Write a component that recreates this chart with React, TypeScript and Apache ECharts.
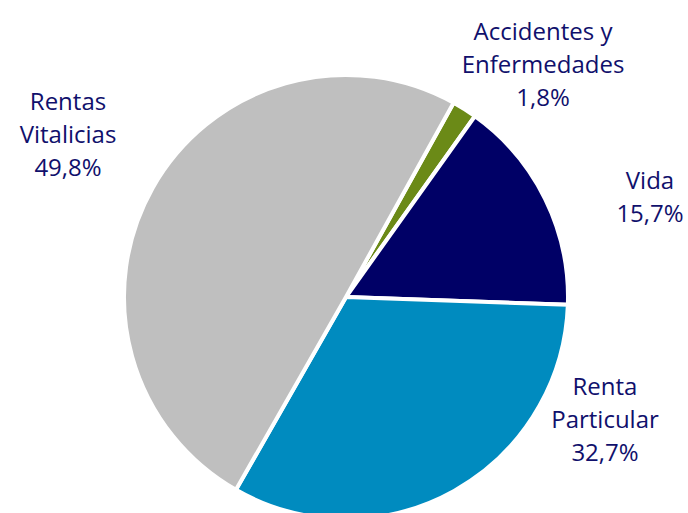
import React, { useEffect, useRef } from "react";
import * as echarts from "echarts";

const categories = ["Accidentes y\nEnfermedades", "Vida", "Renta\nParticular", "Rentas\nVitalicias"];
const values = [1.8, 15.7, 32.7, 49.8];
const colors = ["#6b8a17", "#000066", "#008bbf", "#bfbfbf"];

const labelPos: Record<number, [number, number]> = {
  0: [543, 63],
  1: [650, 196],
  2: [605, 418],
  3: [68, 133],
};

export default function App() {
  const ref = useRef<HTMLDivElement>(null);
  useEffect(() => {
    document.body.style.margin = "0";
    const chart = echarts.init(ref.current!, null, { renderer: "svg" });
    chart.setOption({
      animation: false,
      backgroundColor: "#ffffff",
      textStyle: { fontFamily: "Open Sans" },
      series: [
        {
          type: "pie",
          center: [346, 297],
          radius: 222,
          startAngle: 61,
          clockwise: true,
          avoidLabelOverlap: false,
          data: categories.map((c, i) => ({
            name: c,
            value: values[i],
            itemStyle: { color: colors[i] },
          })),
          itemStyle: { borderColor: "#ffffff", borderWidth: 4 },
          label: {
            show: true,
            position: "outside",
            formatter: (p: any) => `${p.name}\n${p.value.toFixed(1).replace(".", ",")}%`,
            color: "#10106c",
            fontSize: 24,
            lineHeight: 33,
            fontFamily: "Open Sans",
            align: "center",
          },
          labelLine: { show: false },
          labelLayout: (params: any) => {
            const p = labelPos[params.dataIndex];
            return { x: p[0], y: p[1], align: "center", verticalAlign: "middle" };
          },
        },
      ],
    });
    return () => chart.dispose();
  }, []);
  return <div ref={ref} style={{ width: 688, height: 513 }} />;
}
